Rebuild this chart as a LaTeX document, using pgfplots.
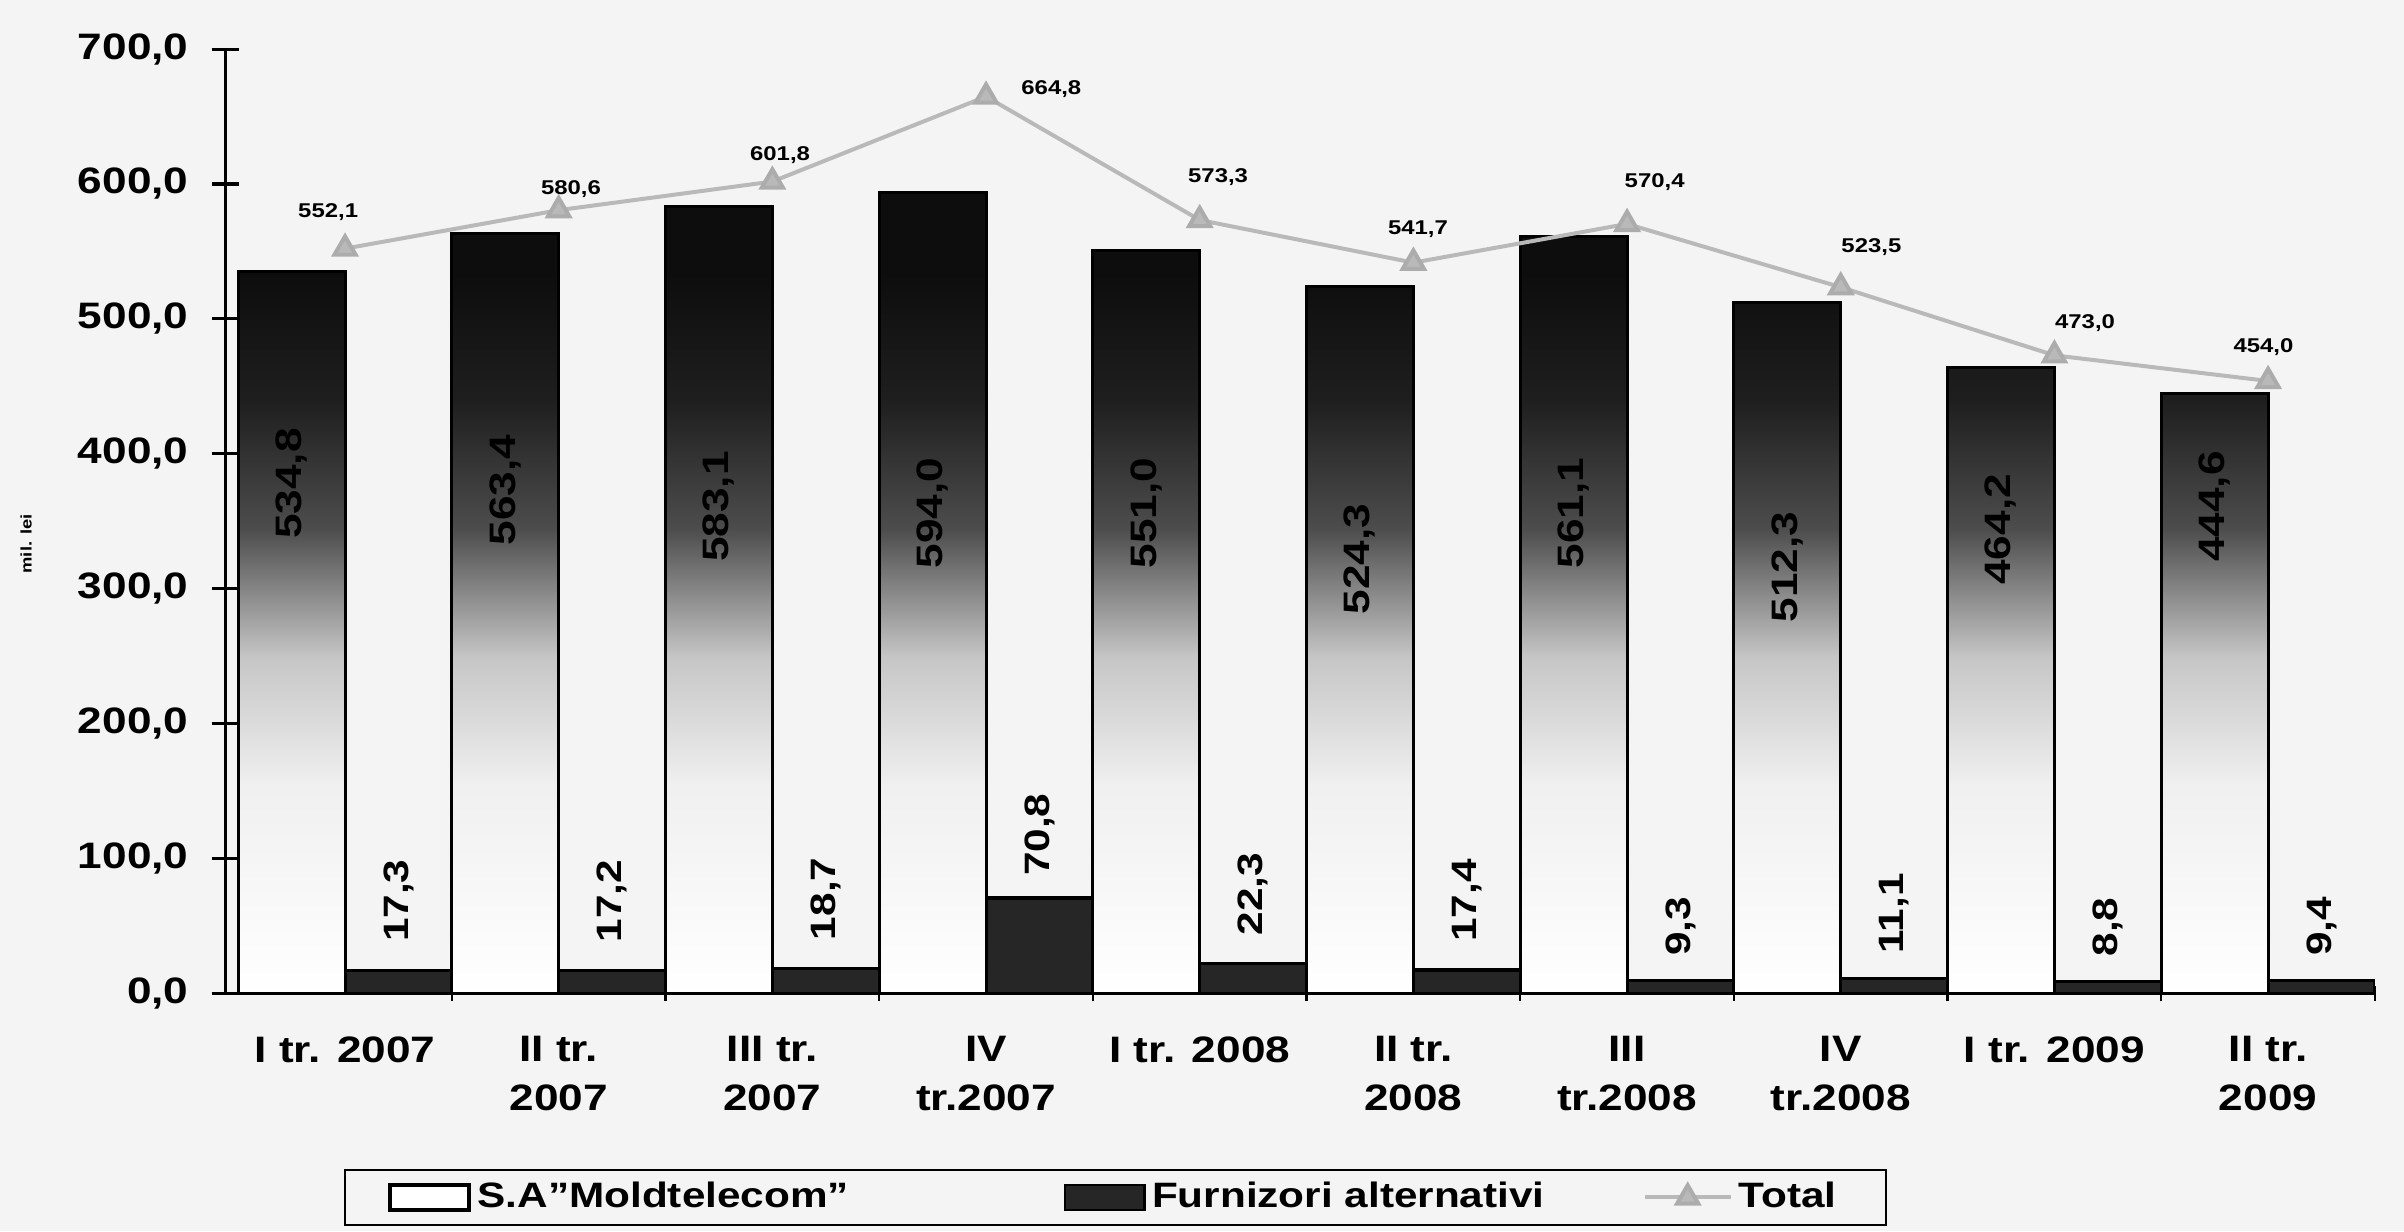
\documentclass[border=0pt]{standalone}
\usepackage{pgfplots}
\pgfplotsset{compat=1.18}
\usepackage{fontspec}
\setmainfont{Liberation Sans}[FakeStretch=1.2]

\pgfdeclareverticalshading{barshade}{100bp}{color(0bp)=(white); color(25bp)=(white); color(38bp)=(gray!12); color(46bp)=(gray!45); color(54bp)=(black!70); color(62bp)=(black!88); color(70bp)=(black!95); color(100bp)=(black!95)}

\begin{document}
\begin{tikzpicture}
\fill[gray!9] (0,0) rectangle (784pt,401.5pt);
\begin{axis}[
  at={(73.5pt,77.5pt)}, anchor=south west,
  scale only axis, width=701pt, height=308pt,
  xmin=-0.56, xmax=9.5, ymin=0, ymax=700,
  axis x line*=bottom, axis y line*=left,
  axis line style={-, black, line width=1pt},
  /pgf/number format/assume math mode=true,
  ytick={0,100,...,700},
  y tick label style={xshift=-4pt, /pgf/number format/.cd, fixed, fixed zerofill, precision=1, use comma},
  tick label style={font=\fontsize{12}{16}\selectfont\bfseries},
  xtick={0,...,9},
  xticklabels={I tr. 2007, II tr.\\2007, III tr.\\2007, IV\\tr.2007, I tr. 2008, II tr.\\2008, III\\tr.2008, IV\\tr.2008, I tr. 2009, II tr.\\2009},
  xticklabel style={align=center, yshift=-6pt},
  minor xtick={0.5,1.5,...,9.5},
  major x tick style={draw=none},
  minor x tick style={black, line width=0.8pt},
  minor tick length=5pt,
  major y tick style={black, line width=1pt},
  major tick length=9pt,
  tick align=center,
  ylabel={mil. lei},
  ylabel style={font=\fontsize{5}{6}\selectfont\bfseries, at={(axis description cs:-0.085,0.476)}},
  legend columns=3,
  legend style={at={(0.414,-0.216)}, anchor=center, draw=black, line width=0.8pt, fill=none,
    inner xsep=14pt,
    font=\fontsize{11.5}{13}\selectfont\bfseries,
    /tikz/column 2/.style={column sep=68pt},
    /tikz/column 4/.style={column sep=30pt}},
]
\addplot[ybar, bar width=0.5, bar shift=-0.25, draw=black, line width=1pt, shading=barshade,
  legend image code/.code={\pgfsetfillcolor{white}\pgfsetstrokecolor{black}\pgfsetlinewidth{1.3pt}\pgfpathrectangle{\pgfpoint{0pt}{-4pt}}{\pgfpoint{26pt}{8pt}}\pgfusepath{fill,stroke}}]
  coordinates {(0,534.8) (1,563.4) (2,583.1) (3,594.0) (4,551.0) (5,524.3) (6,561.1) (7,512.3) (8,464.2) (9,444.6)};
\addlegendentry{S.A"Moldtelecom"}
\addplot[ybar, bar width=0.5, bar shift=0.25, draw=black, line width=1pt, fill=black!85,
  legend image code/.code={\draw[black, line width=0.8pt, fill=black!85] (0pt,-4pt) rectangle (26pt,4pt);}]
  coordinates {(0,17.3) (1,17.2) (2,18.7) (3,70.8) (4,22.3) (5,17.4) (6,9.3) (7,11.1) (8,8.8) (9,9.4)};
\addlegendentry{Furnizori alternativi}
\addplot[gray!55, line width=1.3pt, mark=triangle*, mark size=4pt, mark options={fill=gray!55, draw=gray!65},
  legend image code/.code={\draw[mark repeat=2,mark phase=2] plot coordinates {(0pt,0pt)(14pt,0pt)(28pt,0pt)};}]
  coordinates {(0,552.1) (1,580.6) (2,601.8) (3,664.8) (4,573.3) (5,541.7) (6,570.4) (7,523.5) (8,473.0) (9,454.0)};
\addlegendentry{Total}

\begin{scope}[every node/.style={rotate=90, font=\fontsize{12}{14}\selectfont\bfseries, black}]
\node at (axis cs:-0.25,378) {534,8};
\node at (axis cs:0.75,373) {563,4};
\node at (axis cs:1.75,361) {583,1};
\node at (axis cs:2.75,356) {594,0};
\node at (axis cs:3.75,356) {551,0};
\node at (axis cs:4.75,322) {524,3};
\node at (axis cs:5.75,356) {561,1};
\node at (axis cs:6.75,316) {512,3};
\node at (axis cs:7.75,344) {464,2};
\node at (axis cs:8.75,361) {444,6};
\end{scope}
\begin{scope}[every node/.style={rotate=90, anchor=west, inner sep=0pt, font=\fontsize{11.5}{13}\selectfont\bfseries, black}]
\node at ([yshift=9pt]axis cs:0.25,17.3) {17,3};
\node at ([yshift=9pt]axis cs:1.25,17.2) {17,2};
\node at ([yshift=9pt]axis cs:2.25,18.7) {18,7};
\node at ([yshift=7pt]axis cs:3.25,70.8) {70,8};
\node at ([yshift=9pt]axis cs:4.25,22.3) {22,3};
\node at ([yshift=9pt]axis cs:5.25,17.4) {17,4};
\node at ([yshift=8pt]axis cs:6.25,9.3) {9,3};
\node at ([yshift=8pt]axis cs:7.25,11.1) {11,1};
\node at ([yshift=8pt]axis cs:8.25,8.8) {8,8};
\node at ([yshift=8pt]axis cs:9.25,9.4) {9,4};
\end{scope}
\begin{scope}[every node/.style={font=\fontsize{6.5}{8}\selectfont\bfseries, black}]
\node at ([xshift=-5.5pt,yshift=12pt]axis cs:0,552.1) {552,1};
\node at ([xshift=4pt,yshift=7pt]axis cs:1,580.6) {580,6};
\node at ([xshift=2.5pt,yshift=8.5pt]axis cs:2,601.8) {601,8};
\node[anchor=west] at ([xshift=8pt,yshift=2.5pt]axis cs:3,664.8) {664,8};
\node at ([xshift=6pt,yshift=14pt]axis cs:4,573.3) {573,3};
\node at ([xshift=1.5pt,yshift=11pt]axis cs:5,541.7) {541,7};
\node at ([xshift=9pt,yshift=13.5pt]axis cs:6,570.4) {570,4};
\node at ([xshift=10pt,yshift=13pt]axis cs:7,523.5) {523,5};
\node at ([xshift=10pt,yshift=10.5pt]axis cs:8,473.0) {473,0};
\node at ([xshift=-1.5pt,yshift=11pt]axis cs:9,454.0) {454,0};
\end{scope}
\end{axis}
\pgfresetboundingbox
\path (0,0) rectangle (784pt,401.5pt);
\end{tikzpicture}
\end{document}
